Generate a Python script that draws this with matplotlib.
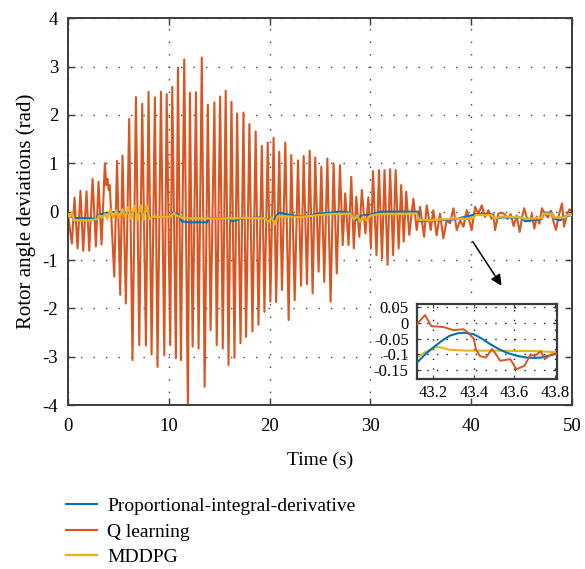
import matplotlib
matplotlib.use("Agg")
import matplotlib.pyplot as plt

plt.rcParams['font.family'] = ['Liberation Serif', 'DejaVu Serif']
plt.rcParams['axes.unicode_minus'] = False

# ---------------- data ----------------
series_names = ["Proportional-integral-derivative", "Q learning", "MDDPG"]

# Q learning: successive extremes of the oscillation, then the noisy tail
q_time = [0.0, 0.40, 0.66, 0.96, 1.25, 1.52, 1.85, 2.12, 2.45, 2.78, 3.04, 3.34, 3.67, 3.80, 3.92, 4.05, 4.15,
          4.60, 4.88, 5.19, 5.42, 5.75, 6.08, 6.41, 6.75, 7.08, 7.37, 7.74, 8.00, 8.30, 8.63, 8.89, 9.23,
          9.56, 9.80, 10.15, 10.35, 10.71, 10.92, 11.21, 11.54, 11.90, 12.10, 12.37, 12.70, 12.96, 13.28,
          13.56, 13.88, 14.15, 14.53, 14.76, 15.10, 15.36, 15.65, 15.93, 16.22, 16.52, 16.78, 17.12, 17.41,
          17.67, 18.00, 18.30, 18.62, 18.90, 19.23, 19.49, 19.82, 20.08, 20.40, 20.65, 20.96, 21.23, 21.56,
          21.89, 22.15, 22.49, 22.82, 23.12, 23.38, 23.71, 23.98, 24.27, 24.53, 24.86, 25.13, 25.42, 25.73,
          26.05, 26.35, 26.66, 26.98, 27.25, 27.50, 27.83, 28.10, 28.35, 28.60, 28.90, 29.15, 29.50, 29.80,
          30.05, 30.25, 30.60, 30.85, 31.15, 31.40, 31.70, 31.95, 32.25, 32.50, 32.80, 33.05, 33.30, 33.55,
          33.85, 34.26, 34.59, 34.92, 35.32, 35.58, 35.98, 36.24, 36.57, 36.90, 37.23, 37.56, 37.89, 38.23,
          38.56, 38.89, 39.22, 39.55, 40.04, 40.38, 40.71, 41.04, 41.37, 41.70, 42.00, 42.19, 42.36, 42.69,
          43.00, 43.30, 43.60, 43.90, 44.20, 44.50, 44.80, 45.05, 45.25, 45.50, 45.80, 46.00, 46.25, 46.50,
          46.75, 47.00, 47.30, 47.60, 47.90, 48.15, 48.40, 48.65, 49.00, 49.20, 49.50, 49.75, 50.00]
q_value = [-0.05, -0.66, 0.29, -0.76, 0.43, -0.81, 0.42, -0.81, 0.68, -0.72, 0.62, -0.68, 1.00, 0.55, 0.68, 0.45, 0.55,
           -1.34, 1.05, -1.72, 1.16, -1.90, 1.92, -3.07, 2.37, -2.76, 2.23, -2.77, 2.48, -2.95, 2.36, -3.21, 2.48,
           -2.97, 2.43, -2.76, 2.58, -3.03, 2.98, -3.07, 3.15, -4.07, 2.46, -2.79, 2.47, -2.83, 3.19,
           -3.62, 2.21, -2.45, 2.26, -2.76, 2.38, -2.83, 2.50, -3.17, 2.27, -3.02, 2.03, -2.72, 2.05,
           -2.59, 1.81, -2.48, 1.66, -2.34, 1.36, -2.07, 1.43, -1.86, 1.53, -1.87, 1.24, -1.62, 1.43,
           -2.24, 1.17, -1.83, 1.06, -1.53, 1.15, -1.50, 1.26, -1.69, 1.12, -1.24, 0.93, -1.45, 1.10,
           -1.86, 1.00, -1.28, 0.96, -0.69, 0.38, -0.69, 0.72, -0.76, 0.31, -0.52, 0.45, -0.45, 0.30,
           -0.76, 0.84, -0.90, 0.86, -0.97, 0.86, -1.10, 0.88, -0.90, 0.86, -0.76, 0.55, -0.62, 0.41,
           -0.48, 0.27, -0.38, 0.10, -0.52, 0.13, -0.38, 0.03, -0.49, -0.04, -0.55, -0.18, -0.24, 0.07,
           -0.38, -0.18, -0.31, 0.03, -0.38, 0.10, -0.04, 0.13, -0.11, 0.03, -0.15, -0.05, -0.38, -0.04,
           -0.02, -0.05, -0.15, -0.05, -0.30, -0.08, -0.42, -0.10, 0.07, -0.12, -0.20, -0.05, -0.35, -0.10,
           -0.25, 0.07, -0.05, -0.12, 0.02, -0.20, -0.38, -0.10, 0.17, -0.31, -0.05, 0.05, 0.00]

pid_time = [0.0, 0.3, 0.6, 2.5, 2.8, 3.0, 3.5, 4.0, 5.0, 6.0, 7.0, 8.0, 8.2, 10.2, 10.4, 10.9, 11.3, 12.0, 13.8,
            14.0, 16.0, 16.3, 17.2, 19.0, 19.6, 20.0, 20.5, 20.9, 21.6, 23.0, 24.0, 24.5, 26.0, 27.0, 28.0,
            28.5, 29.1, 30.0, 31.0, 34.7, 34.9, 38.3, 40.5, 42.0, 42.3, 43.0, 45.0, 45.3, 47.0, 47.2, 48.0,
            48.3, 48.8, 49.3, 50.0]
pid_value = [-0.05, -0.10, -0.13, -0.14, -0.20, -0.07, -0.04, -0.02, 0.00, -0.02, -0.03, -0.03, -0.12, -0.10,
             -0.02, -0.05, -0.20, -0.22, -0.22, -0.13, -0.14, -0.20, -0.14, -0.12, -0.14, -0.18, -0.15, -0.02,
             -0.05, -0.10, -0.08, -0.05, -0.02, 0.00, -0.02, -0.18, -0.08, -0.06, 0.00, 0.00, -0.20, -0.16,
             -0.05, -0.05, -0.15, -0.12, -0.12, -0.20, -0.15, -0.02, -0.02, -0.15, -0.18, -0.10, -0.07]

mddpg_time = [0.0, 0.2, 0.4, 0.6, 1.0, 2.0, 2.9, 3.1, 3.4, 3.7, 3.9, 4.2, 4.5, 4.8, 5.1, 5.4, 5.7, 6.0, 6.3, 6.6,
              6.9, 7.2, 7.5, 7.8, 8.1, 8.4, 9.0, 10.2, 10.5, 10.8, 11.2, 12.0, 14.0, 16.0, 18.0, 19.6, 19.9,
              20.2, 20.5, 20.8, 21.5, 23.0, 24.5, 26.0, 28.0, 28.4, 28.7, 29.0, 29.3, 29.6, 30.0, 30.9, 34.6,
              34.8, 36.0, 38.3, 40.0, 40.5, 42.0, 42.3, 43.0, 45.0, 45.3, 47.0, 47.1, 48.0, 48.2, 49.3, 49.5, 50.0]
mddpg_value = [-0.05, -0.12, -0.02, -0.17, -0.18, -0.18, -0.16, -0.08, -0.12, -0.05, -0.15, 0.05, -0.12, 0.02,
               -0.13, 0.05, -0.12, 0.10, -0.15, 0.12, -0.17, 0.13, -0.16, 0.13, -0.15, -0.10, -0.11, -0.10,
               -0.03, -0.08, -0.12, -0.14, -0.14, -0.14, -0.13, -0.14, -0.22, -0.12, -0.26, -0.10, -0.10,
               -0.11, -0.08, -0.05, -0.04, -0.16, -0.08, -0.22, -0.10, -0.18, -0.08, -0.05, -0.04, -0.17,
               -0.18, -0.14, -0.15, -0.07, -0.07, -0.15, -0.10, -0.12, -0.15, -0.13, -0.04, -0.04, -0.12,
               -0.12, -0.07, -0.07]

# inset (zoom of 43.1 - 43.8 s)
in_q_time = [43.12, 43.16, 43.19, 43.25, 43.30, 43.35, 43.37, 43.40, 43.41, 43.43, 43.46, 43.49, 43.51, 43.53,
             43.58, 43.61, 43.65, 43.68, 43.70, 43.73, 43.75, 43.78, 43.81]
in_q_value = [-0.004, 0.025, -0.010, -0.013, -0.023, -0.020, -0.030, -0.050, -0.083, -0.105, -0.110, -0.083,
              -0.100, -0.120, -0.115, -0.147, -0.136, -0.100, -0.105, -0.090, -0.115, -0.100, -0.097]
in_pid_time = [43.12, 43.16, 43.20, 43.24, 43.28, 43.32, 43.35, 43.40, 43.44, 43.48, 43.52, 43.56, 43.61, 43.66,
               43.70, 43.73, 43.77, 43.81]
in_pid_value = [-0.126, -0.100, -0.078, -0.058, -0.041, -0.033, -0.031, -0.036, -0.050, -0.067, -0.082, -0.094,
                -0.104, -0.110, -0.111, -0.110, -0.104, -0.097]
in_mddpg_time = [43.12, 43.16, 43.20, 43.22, 43.25, 43.28, 43.33, 43.37, 43.45, 43.53, 43.61, 43.69, 43.75, 43.81]
in_mddpg_value = [-0.110, -0.093, -0.080, -0.076, -0.080, -0.085, -0.087, -0.088, -0.088, -0.088, -0.089, -0.089,
                  -0.091, -0.093]

x_ticks = [0, 10, 20, 30, 40, 50]
y_ticks = [-4, -3, -2, -1, 0, 1, 2, 3, 4]
in_x_ticks = [43.2, 43.4, 43.6, 43.8]
in_y_ticks = [0.05, 0, -0.05, -0.1, -0.15]
in_y_labels = ["0.05", "0", "-0.05", "-0.1", "-0.15"]

# ---------------- style ----------------
c_pid = "#0072BD"
c_q = "#DA5520"
c_md = "#EDB120"
frame = "#3c3c3c"
grid_kw = dict(color="#444444", linestyle=(0, (1, 8)), linewidth=1.0)

fig = plt.figure(figsize=(5.85, 5.69), dpi=100)
ax = fig.add_axes([0.116, 0.288, 0.862, 0.680])

l_q, = ax.plot(q_time, q_value, color=c_q, lw=1.5, zorder=2)
l_pid, = ax.plot(pid_time, pid_value, color=c_pid, lw=1.5, zorder=3)
l_md, = ax.plot(mddpg_time, mddpg_value, color=c_md, lw=1.7, zorder=4)

ax.set_xlim(0, 50)
ax.set_ylim(-4, 4)
ax.set_xticks(x_ticks)
ax.set_yticks(y_ticks)
ax.grid(True, **grid_kw)
ax.tick_params(direction="in", top=True, right=True, length=5, width=1, color=frame,
               labelsize=13.5)
ax.tick_params(axis="x", pad=9)
ax.tick_params(axis="y", pad=7)
for s in ax.spines.values():
    s.set_color(frame)
    s.set_linewidth(1.4)
ax.set_xlabel("Time (s)", fontsize=14, labelpad=12)
ax.set_ylabel("Rotor angle deviations (rad)", fontsize=15, labelpad=5)

ax.annotate("", xy=(43.0, -1.53), xytext=(40.15, -0.62),
            arrowprops=dict(arrowstyle="-|>", color="black", lw=1.1, mutation_scale=16,
                            shrinkA=0, shrinkB=0), zorder=6)

# inset
ins = fig.add_axes([0.7128, 0.3339, 0.2393, 0.1318])
ins.set_facecolor("white")
ins.plot(in_pid_time, in_pid_value, color=c_pid, lw=1.5, zorder=3)
ins.plot(in_q_time, in_q_value, color=c_q, lw=1.4, zorder=4)
ins.plot(in_mddpg_time, in_mddpg_value, color=c_md, lw=1.5, zorder=2)
ins.set_xlim(43.12, 43.81)
ins.set_ylim(-0.178, 0.06)
ins.set_xticks(in_x_ticks)
ins.set_xticklabels([f"{v:.1f}" for v in in_x_ticks])
ins.set_yticks(in_y_ticks)
ins.set_yticklabels(in_y_labels)
ins.grid(True, color="#222222", linestyle=(0, (1, 6)), linewidth=1.0)
ins.tick_params(direction="in", top=True, right=True, length=3, color=frame, labelsize=12)
ins.tick_params(axis="y", pad=6)
ins.tick_params(axis="x", pad=4)
for s in ins.spines.values():
    s.set_color(frame)
    s.set_linewidth(1.6)

fig.legend([l_pid, l_q, l_md], series_names, loc="upper left", bbox_to_anchor=(0.1, 0.14),
           frameon=False, fontsize=14, handlelength=1.6, handletextpad=0.5, labelspacing=0.42,
           borderaxespad=0)

fig.savefig("out.png", dpi=100)
